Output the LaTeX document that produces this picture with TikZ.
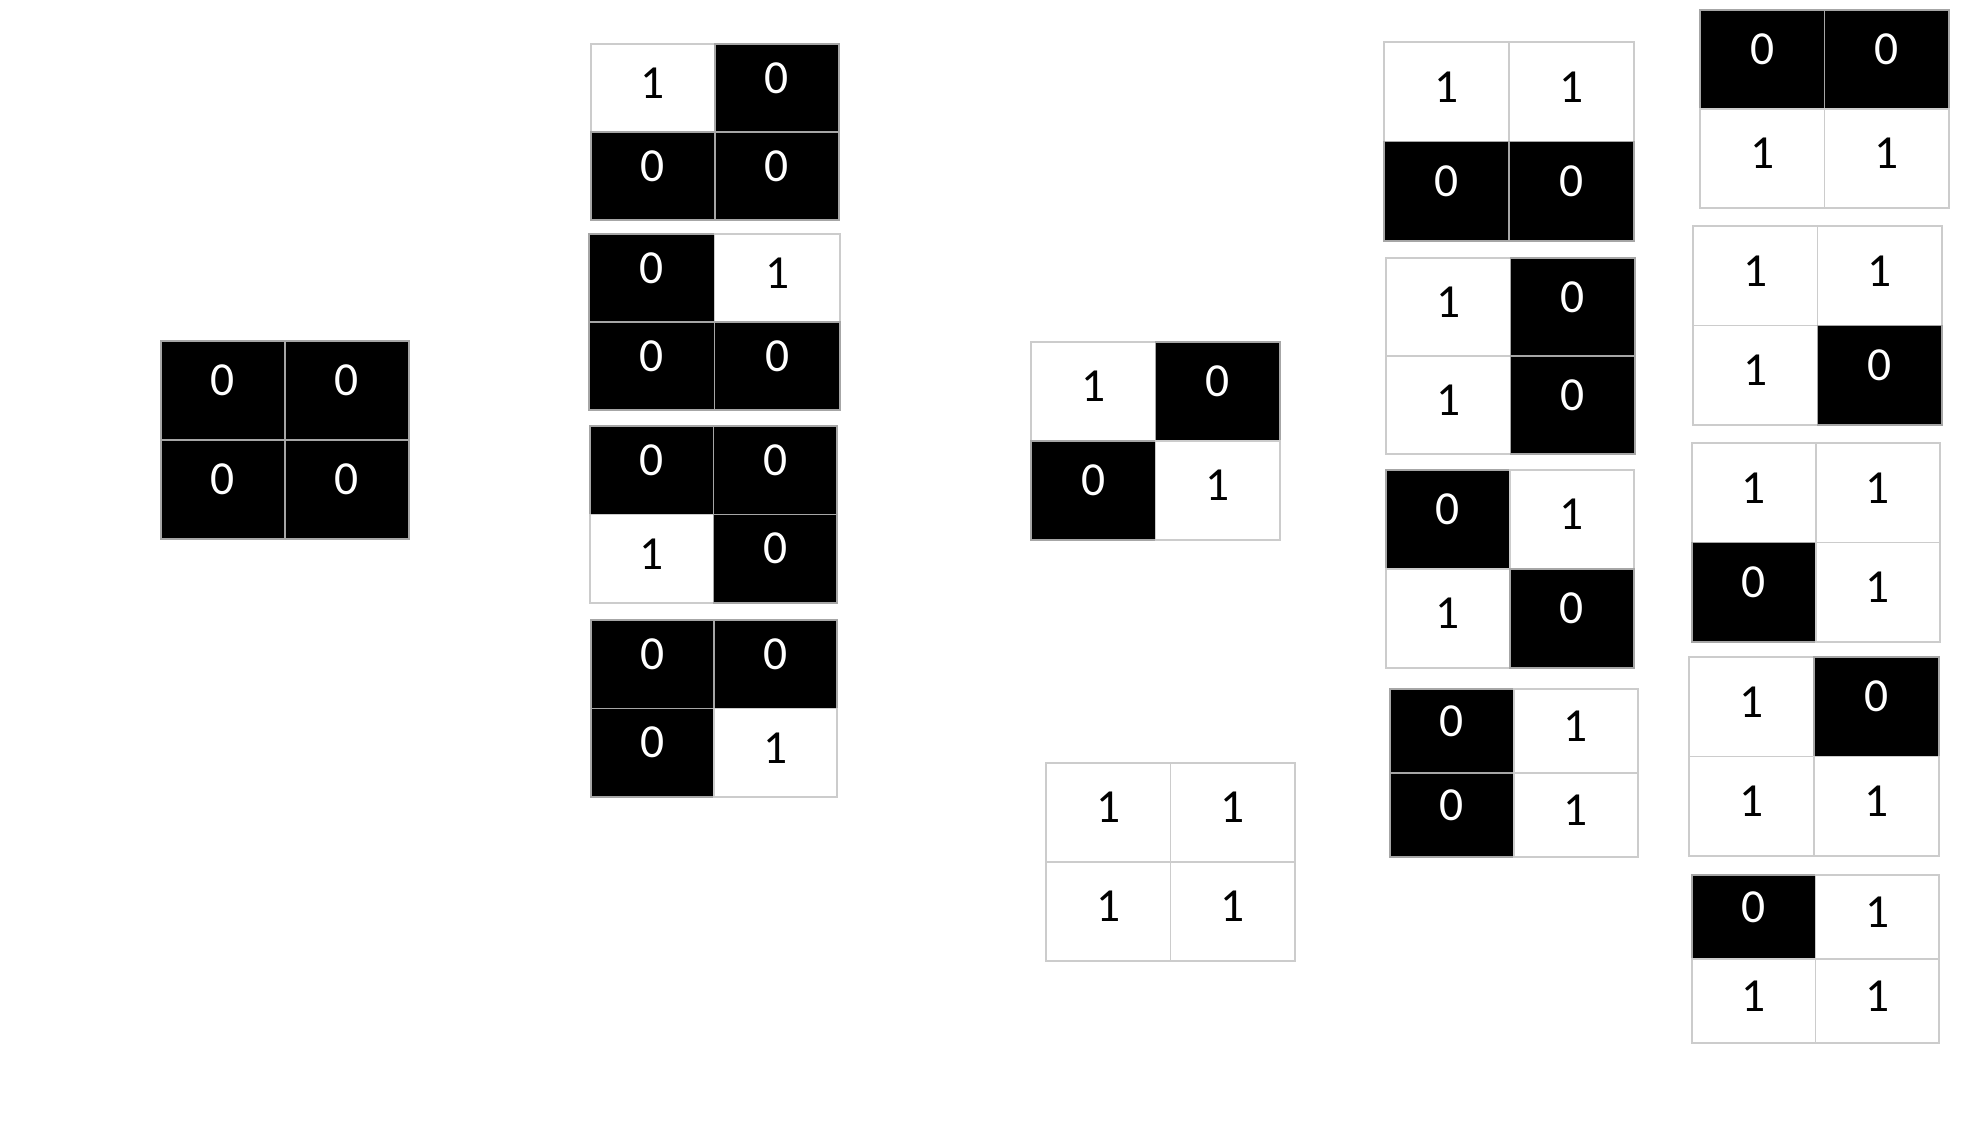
\documentclass[tikz,border=0pt]{standalone}
\usepackage{fontspec}
\setmainfont{Carlito}
\usepackage{tikz}
\usetikzlibrary{positioning,calc}

% one 2x2 grid: name, left, top, right, bottom, four bits (row by row)
\newcommand{\bitgrid}[9]{%
  \path[b#6] (#2,#3) rectangle ({(#2+#4)/2},{(#3+#5)/2});
  \path[b#7] ({(#2+#4)/2},#3) rectangle (#4,{(#3+#5)/2});
  \path[b#8] (#2,{(#3+#5)/2}) rectangle ({(#2+#4)/2},#5);
  \path[b#9] ({(#2+#4)/2},{(#3+#5)/2}) rectangle (#4,#5);
  \node[d#6] (#1-a) at ({(3*#2+#4)/4},{(3*#3+#5)/4}) {#6};
  \node[d#7] (#1-b) at ({(#2+3*#4)/4},{(3*#3+#5)/4}) {#7};
  \node[d#8] (#1-c) at ({(3*#2+#4)/4},{(#3+3*#5)/4}) {#8};
  \node[d#9] (#1-d) at ({(#2+3*#4)/4},{(#3+3*#5)/4}) {#9};
}

\begin{document}
\begin{tikzpicture}[
  x=0.1mm, y=-0.1mm,
  b0/.style={fill=black, draw=gray!70, line width=0.15mm},
  b1/.style={fill=white, draw=gray!40, line width=0.15mm},
  d0/.style={text=white, yshift=1mm, font=\fontsize{13.5pt}{15pt}\selectfont},
  d1/.style={text=black, yshift=0.5mm, font=\fontsize{13.5pt}{15pt}\selectfont},
]
\fill[white] (0,0) rectangle (1977,1145);
\useasboundingbox (0,0) rectangle (1977,1145);

% all zero
\bitgrid{zero}{161}{341}{409}{539}0000

% one bit set
\bitgrid{oneA}{591}{44}{839}{220}1000
\bitgrid{oneB}{589}{234}{840}{410}0100
\bitgrid{oneC}{590}{426}{837}{603}0010
\bitgrid{oneD}{591}{620}{837}{797}0001

% two bits, diagonal / all four
\bitgrid{diag}{1031}{342}{1280}{540}1001
\bitgrid{full}{1046}{763}{1295}{961}1111

% two bits set
\bitgrid{twoA}{1384}{42}{1634}{241}1100
\bitgrid{twoB}{1386}{258}{1635}{454}1010
\bitgrid{twoC}{1386}{470}{1634}{668}0110
\bitgrid{twoD}{1390}{689}{1638}{857}0101

% three bits set
\bitgrid{threeA}{1700}{10}{1949}{208}0011
\bitgrid{threeB}{1693}{226}{1942}{425}1110
\bitgrid{threeC}{1692}{443}{1940}{642}1101
\bitgrid{threeD}{1689}{657}{1939}{856}1011
\bitgrid{threeE}{1692}{875}{1939}{1043}0111

\end{tikzpicture}
\end{document}
